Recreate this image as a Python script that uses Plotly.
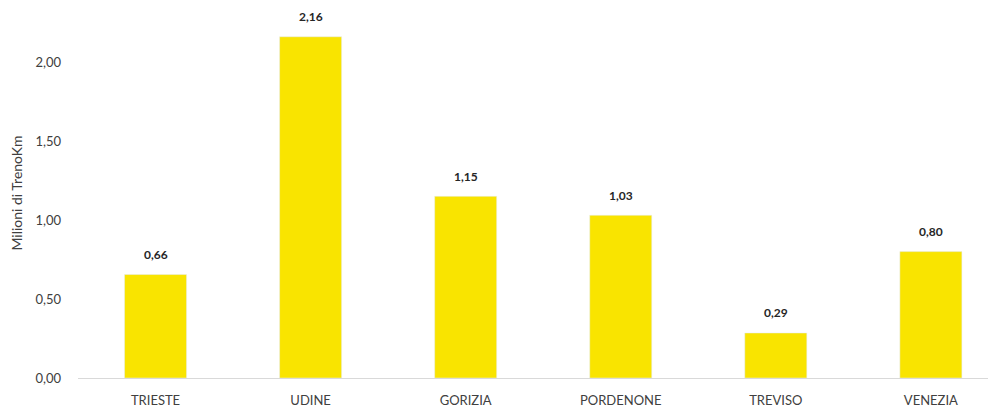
import plotly.graph_objects as go

# Milioni di TrenoKm per provincia
provinces = ["TRIESTE", "UDINE", "GORIZIA", "PORDENONE", "TREVISO", "VENEZIA"]
trenokm = [0.655, 2.16, 1.15, 1.03, 0.285, 0.80]
labels = ["0,66", "2,16", "1,15", "1,03", "0,29", "0,80"]

fig = go.Figure()
fig.add_trace(go.Bar(x=provinces, y=trenokm, marker_color="#F9E400",
                     width=0.4, hoverinfo="x+y"))

# Data labels above bars
for p, v, t in zip(provinces, trenokm, labels):
    fig.add_annotation(x=p, y=v, text="<b>" + t + "</b>", showarrow=False,
                       yshift=20, font=dict(size=12, color="#262626", family="Lato"))

# page body adds an 8px offset, so the figure is a bit smaller than the window
fig.update_layout(
    width=988, height=399,
    margin=dict(l=70, r=0, t=0, b=29),
    plot_bgcolor="white", paper_bgcolor="white",
    separators=",.",
    showlegend=False,
    font=dict(family="Lato", size=13, color="#404040"),
    xaxis=dict(range=[-0.5, 5.42], showline=True, linecolor="#D9D9D9", linewidth=1,
               showgrid=False, ticks="", tickfont=dict(size=13, color="#404040"),
               ticklabelstandoff=10),
    yaxis=dict(range=[0, 2.342], tickvals=[0, 0.5, 1, 1.5, 2], tickformat=".2f",
               showgrid=False, zeroline=False, showline=False,
               ticklabelstandoff=16, tickfont=dict(size=13, color="#404040"),
               title=dict(text="Milioni di TrenoKm", font=dict(size=14, color="#404040"),
                          standoff=14)),
)

fig.write_html("out.html")
